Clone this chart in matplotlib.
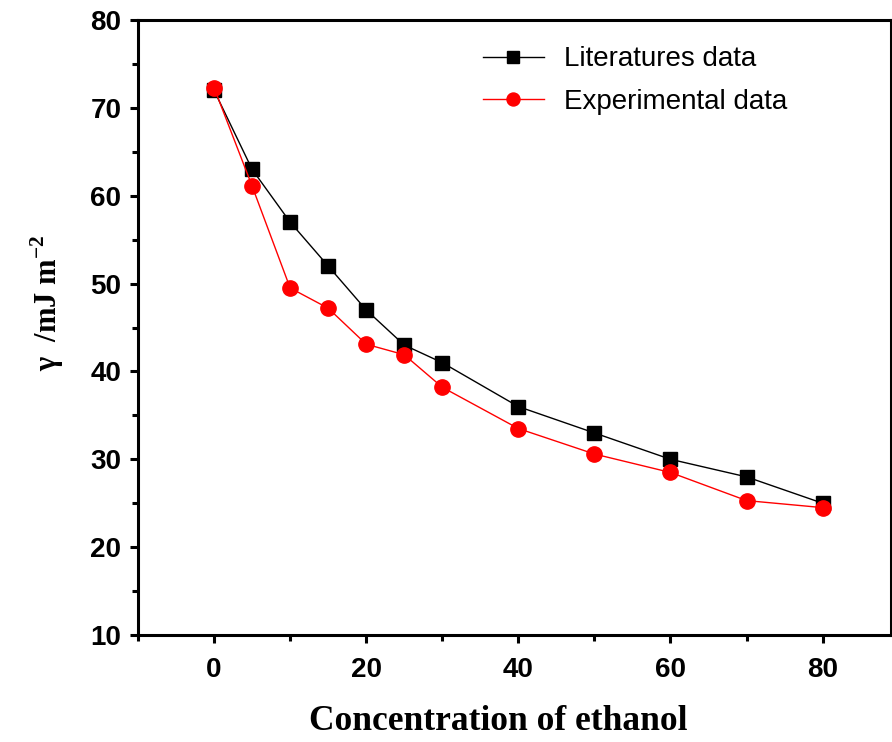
import matplotlib
matplotlib.use("Agg")
import matplotlib.pyplot as plt
from matplotlib.ticker import MultipleLocator

plt.rcParams['mathtext.fontset'] = 'custom'
plt.rcParams['mathtext.rm'] = 'Liberation Serif:bold'
plt.rcParams['mathtext.bf'] = 'Liberation Serif:bold'

# Ethanol concentration and surface tension values
concentration = [0, 5, 10, 15, 20, 25, 30, 40, 50, 60, 70, 80]
literature = [72.0, 63.0, 57.0, 52.0, 47.0, 43.0, 41.0, 36.0, 33.0, 30.0, 28.0, 25.0]
experimental = [72.3, 61.1, 49.5, 47.2, 43.1, 41.9, 38.2, 33.5, 30.6, 28.5, 25.3, 24.5]

fig = plt.figure(figsize=(8.92, 7.42), dpi=100)
ax = fig.add_axes([0.1547, 0.1442, 0.8443, 0.8288])

ax.plot(concentration, literature, color='black', lw=1.0, marker='s', ms=10,
        label='Literatures data')
ax.plot(concentration, experimental, color='red', lw=1.0, marker='o', ms=11,
        label='Experimental data')

ax.set_xlim(-10, 89)
ax.set_ylim(10, 80)
ax.xaxis.set_major_locator(MultipleLocator(20))
ax.xaxis.set_minor_locator(MultipleLocator(10))
ax.yaxis.set_major_locator(MultipleLocator(10))
ax.yaxis.set_minor_locator(MultipleLocator(5))

for s in ax.spines.values():
    s.set_linewidth(2.2)
ax.tick_params(which='major', direction='out', length=6, width=2.2)
ax.tick_params(which='minor', direction='out', length=4, width=2.2)
ax.tick_params(axis='x', pad=10)
ax.tick_params(axis='y', pad=6)
for lab in ax.get_xticklabels() + ax.get_yticklabels():
    lab.set_fontfamily('Liberation Sans')
    lab.set_fontweight('bold')
    lab.set_fontsize(20)

ax.set_xlabel('Concentration of ethanol', family='Liberation Serif',
              fontweight='bold', fontsize=25.5, va='center')
ax.xaxis.set_label_coords(0.478, -0.14)
ax.set_ylabel('γ  /mJ m$^{-2}$', family='Liberation Serif',
              fontweight='bold', fontsize=22, va='center')
ax.yaxis.set_label_coords(-0.121, 0.54)

leg = ax.legend(loc='upper left', bbox_to_anchor=(0.458, 0.957), frameon=False,
                prop={'family': 'Liberation Sans', 'size': 20},
                borderpad=0, borderaxespad=0, markerscale=0.85,
                handlelength=2.2, labelspacing=0.58, handletextpad=0.72)

fig.savefig('out.png', dpi=100)
